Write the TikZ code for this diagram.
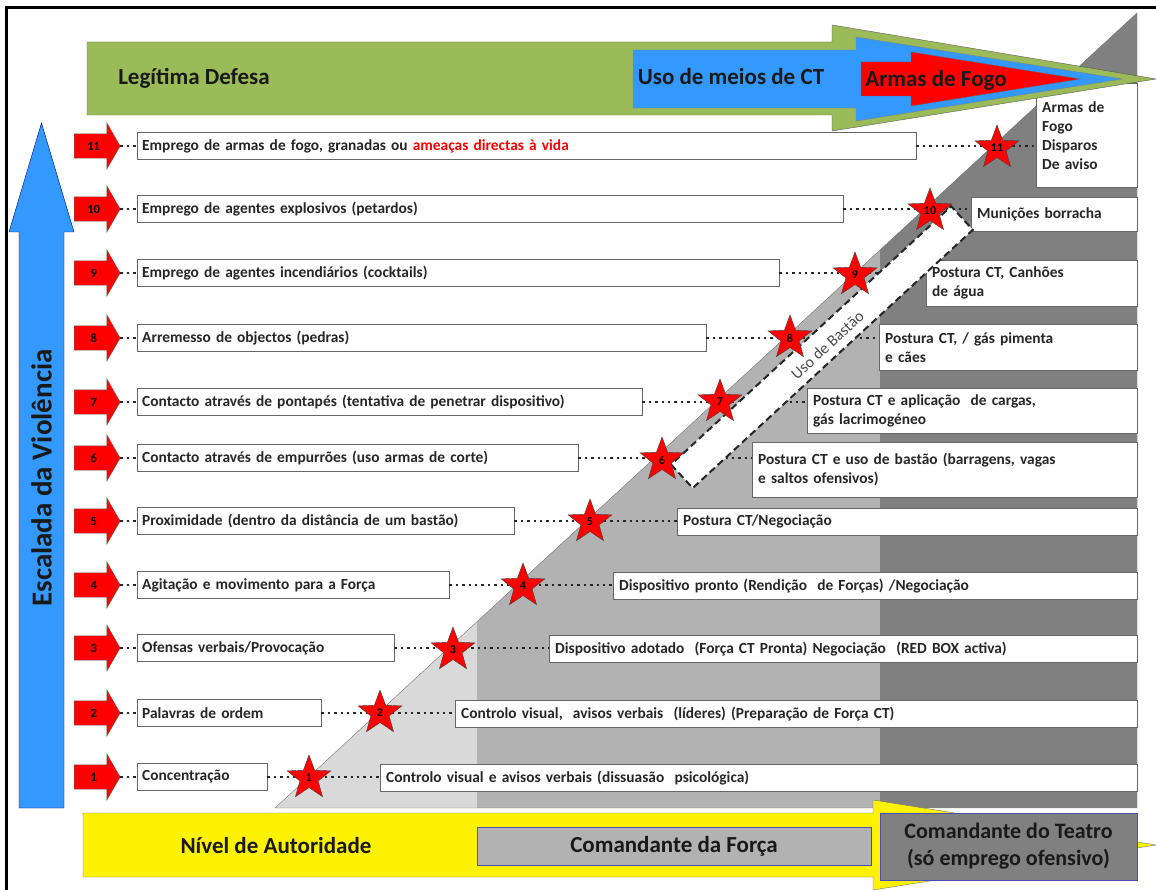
\documentclass[tikz,border=0pt]{standalone}
\usepackage{fontspec}
\setmainfont{Carlito}
\usepackage{xcolor}
\usepackage{tikz}
\usetikzlibrary{arrows.meta,shapes.geometric,shapes.arrows}

\definecolor{legitgreen}{HTML}{9BBB59}
\definecolor{ctblue}{HTML}{3399FF}
\definecolor{lightband}{HTML}{D9D9D9}
\definecolor{midband}{HTML}{B2B2B2}
\definecolor{darkband}{HTML}{808080}
\newcommand{\boxfont}{\fontsize{15.4}{19}\selectfont\bfseries}
\newcommand{\headfont}{\fontsize{23}{27}\selectfont\bfseries}

\begin{document}
\begin{tikzpicture}[x=1pt, y=-1pt,
    lbox/.style={draw=black!60, fill=white, anchor=west, minimum height=27pt, inner xsep=5pt, inner ysep=2pt, align=left, font=\boxfont, text=black!85},
    rbox/.style={draw=black!60, fill=white, anchor=north west, inner xsep=6pt, inner ysep=2pt, align=left, font=\boxfont, text=black!85},
    flag/.style={single arrow, anchor=tail, fill=red, draw=black!60, single arrow head extend=11pt, single arrow tip angle=120, minimum height=46pt, text height=9pt, text depth=0pt, inner ysep=7.5pt, inner xsep=2pt, font=\fontsize{12.5}{12.5}\selectfont\bfseries},
    hit/.style={star, star points=5, star point ratio=2.4, fill=red, draw=black!75, minimum size=46pt, inner sep=0pt, font=\fontsize{12}{12}\selectfont\bfseries},
    link/.style={line width=2.4pt, dash pattern=on 2.4pt off 4pt, black!85},
    head/.style={font=\headfont, text=black!90},
    cmdbox/.style={draw=blue!40!gray, fill=midband, align=center, font=\headfont, text=black!90}]
    \useasboundingbox (0,0) rectangle (1156,890);
    \fill[white] (0,0) rectangle (1156,890);
    \draw[line width=3pt] (6,890) -- (6,8) -- (1156,8);

    \begin{scope}
        \clip (275,808) -- (1137,13) -- (1137,808) -- cycle;
        \fill[lightband] (270,0) rectangle (477,808);
        \fill[midband] (477,0) rectangle (880,808);
        \fill[darkband] (880,0) rectangle (1140,808);
    \end{scope}
    \draw[black!55] (275,808) -- (1137,13) -- (1137,808) -- cycle;

    \draw[fill=ctblue, draw=blue!50!black] (19,808) -- (19,232) -- (9,232) -- (41.5,123) -- (74,232) -- (64,232) -- (64,808) -- cycle;
    \node[head, rotate=90, font=\fontsize{29}{30}\selectfont\bfseries] (escalada) at (41.5,478) {Escalada da Violência};

    \draw[fill=yellow, draw=black!55] (83,813) -- (873,813) -- (873,800) -- (1156,845) -- (873,890) -- (873,877) -- (83,877) -- cycle;
    \node[head] (nivel) at (276,846) {Nível de Autoridade};
    \node[cmdbox, minimum width=394pt, minimum height=38pt] (forca) at (674,846.5) {Comandante da Força};
    \node[cmdbox, fill=darkband, minimum width=257pt, minimum height=67pt, font=\fontsize{22}{27}\selectfont\bfseries] (teatro) at (1008.5,846.5) {Comandante do Teatro\\(só emprego ofensivo)};

    \node[lbox, text width=769pt] (lb11) at (137,146) {Emprego de armas de fogo, granadas ou \textcolor{red}{ameaças directas à vida}};
    \node[lbox, text width=696pt] (lb10) at (137,209) {Emprego de agentes explosivos (petardos)};
    \node[lbox, text width=632pt] (lb9) at (137,273) {Emprego de agentes incendiários (cocktails)};
    \node[lbox, text width=559pt] (lb8) at (137,338) {Arremesso de objectos (pedras)};
    \node[lbox, text width=495pt] (lb7) at (137,402) {Contacto através de pontapés (tentativa de penetrar dispositivo)};
    \node[lbox, text width=431pt] (lb6) at (137,458) {Contacto através de empurrões (uso armas de corte)};
    \node[lbox, text width=367pt] (lb5) at (137,521) {Proximidade (dentro da distância de um bastão)};
    \node[lbox, text width=302pt] (lb4) at (137,585) {Agitação e movimento para a Força};
    \node[lbox, text width=247pt] (lb3) at (137,648) {Ofensas verbais/Provocação};
    \node[lbox, text width=174pt] (lb2) at (137,713) {Palavras de ordem};
    \node[lbox, text width=120pt] (lb1) at (137,777) {Concentração};

    \node[rbox, text width=89pt, minimum height=104pt] (rb11) at (1036,83) {Armas de\\Fogo\\Disparos\\De aviso};
    \node[rbox, text width=154pt, minimum height=34pt] (rb10) at (971,197) {Munições borracha};
    \node[rbox, text width=199pt, minimum height=46pt] (rb9) at (926,260) {Postura CT, Canhões\\de água};
    \node[rbox, text width=246pt, minimum height=46pt] (rb8) at (879,324) {Postura CT, / gás pimenta\\e cães};
    \node[rbox, text width=318pt, minimum height=45pt] (rb7) at (807,388) {Postura CT e aplicação~ de cargas,\\gás lacrimogéneo};
    \node[rbox, text width=373pt, minimum height=55pt] (rb6) at (752,442) {Postura CT e uso de bastão (barragens, vagas\\e saltos ofensivos)};
    \node[rbox, text width=448pt, minimum height=27pt] (rb5) at (677,508) {Postura CT/Negociação};
    \node[rbox, text width=512pt, minimum height=27pt] (rb4) at (613,572) {Dispositivo pronto (Rendição~ de Forças) /Negociação};
    \node[rbox, text width=576pt, minimum height=27pt] (rb3) at (549,635) {Dispositivo adotado~ (Força CT Pronta) Negociação~ (RED BOX activa)};
    \node[rbox, text width=670pt, minimum height=27pt] (rb2) at (455,700) {Controlo visual,~ avisos verbais~ (líderes) (Preparação de Força CT)};
    \node[rbox, text width=745pt, minimum height=27pt] (rb1) at (380,764) {Controlo visual e avisos verbais (dissuasão~ psicológica)};

    \draw[fill=legitgreen, draw=black!65] (87,42) -- (832,42) -- (832,25) -- (1156,79) -- (832,131) -- (832,115) -- (87,115) -- cycle;
    \draw[fill=ctblue, draw=black!50] (633,50) -- (856,50) -- (856,37) -- (1122,79) -- (856,121) -- (856,108) -- (633,108) -- cycle;
    \draw[fill=red, draw=black!60] (861,62) -- (911,62) -- (911,52) -- (1080,79) -- (911,106) -- (911,96) -- (861,96) -- cycle;
    \node[head] (legit) at (194,78) {Legítima Defesa};
    \node[head] (meios) at (731,77) {Uso de meios de CT};
    \node[head] (fogo) at (936,80) {Armas de Fogo};

    \draw[link] (lb11.east) -- (lb11.east -| rb11.west);
    \draw[link] (lb10.east) -- (lb10.east -| rb10.west);
    \draw[link] (lb9.east) -- (lb9.east -| rb9.west);
    \draw[link] (lb8.east) -- (lb8.east -| rb8.west);
    \draw[link] (lb7.east) -- (lb7.east -| rb7.west);
    \draw[link] (lb6.east) -- (lb6.east -| rb6.west);
    \draw[link] (lb5.east) -- (lb5.east -| rb5.west);
    \draw[link] (lb4.east) -- (lb4.east -| rb4.west);
    \draw[link] (lb3.east) -- (lb3.east -| rb3.west);
    \draw[link] (lb2.east) -- (lb2.east -| rb2.west);
    \draw[link] (lb1.east) -- (lb1.east -| rb1.west);

    \begin{scope}[shift={(275,808)}, rotate=42.68]
        \draw[fill=white, draw=black!85, line width=2pt, dash pattern=on 7pt off 4pt] (524,16) rectangle (905,48);
        \node[rotate=42.68, font=\fontsize{16}{16}\selectfont, text=black!70] (baston) at (720,34) {Uso de Bastão};
    \end{scope}

    \node[hit] (st11) at (997,148) {11};
    \node[hit] (st10) at (930,211) {10};
    \node[hit] (st9) at (855,275) {9};
    \node[hit] (st8) at (790,338) {8};
    \node[hit] (st7) at (720,402) {7};
    \node[hit] (st6) at (662,460) {6};
    \node[hit] (st5) at (590,522) {5};
    \node[hit] (st4) at (523,586) {4};
    \node[hit] (st3) at (453,650) {3};
    \node[hit] (st2) at (380,713) {2};
    \node[hit] (st1) at (309,778) {1};

    \node[flag] (ar11) at (74,146) {11};
    \node[flag] (ar10) at (74,209) {10};
    \node[flag] (ar9) at (74,273) {9};
    \node[flag] (ar8) at (74,338) {8};
    \node[flag] (ar7) at (74,402) {7};
    \node[flag] (ar6) at (74,458) {6};
    \node[flag] (ar5) at (74,521) {5};
    \node[flag] (ar4) at (74,585) {4};
    \node[flag] (ar3) at (74,648) {3};
    \node[flag] (ar2) at (74,713) {2};
    \node[flag] (ar1) at (74,777) {1};
    \draw[link] (ar11.tip) -- (lb11.west);
    \draw[link] (ar10.tip) -- (lb10.west);
    \draw[link] (ar9.tip) -- (lb9.west);
    \draw[link] (ar8.tip) -- (lb8.west);
    \draw[link] (ar7.tip) -- (lb7.west);
    \draw[link] (ar6.tip) -- (lb6.west);
    \draw[link] (ar5.tip) -- (lb5.west);
    \draw[link] (ar4.tip) -- (lb4.west);
    \draw[link] (ar3.tip) -- (lb3.west);
    \draw[link] (ar2.tip) -- (lb2.west);
    \draw[link] (ar1.tip) -- (lb1.west);
\end{tikzpicture}
\end{document}
